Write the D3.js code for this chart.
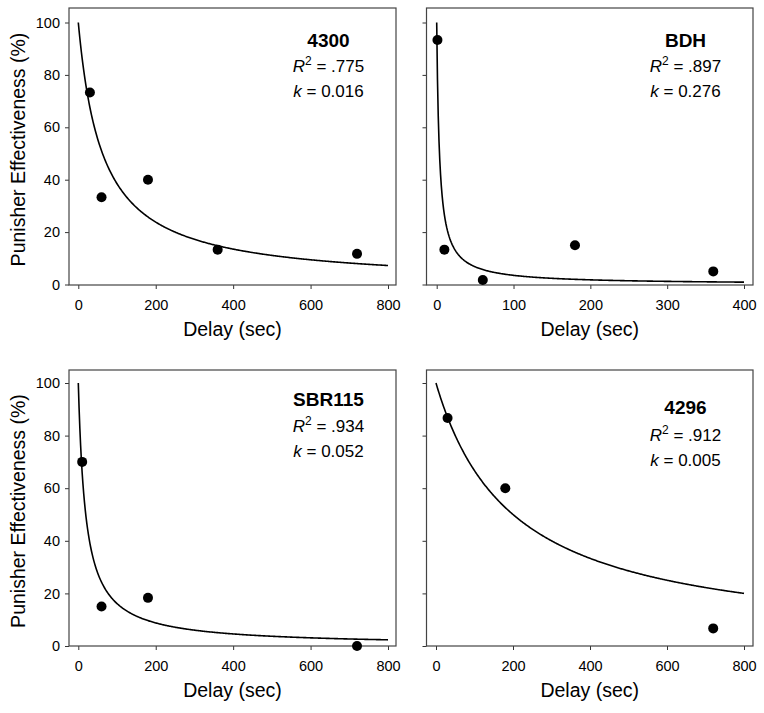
<!DOCTYPE html>
<html>
<head>
<meta charset="utf-8">
<script src="https://cdn.jsdelivr.net/npm/d3@7"></script>
<style>
  body { margin: 0; background: #fff; }
  text { font-family: "Liberation Sans", Arial, sans-serif; }
</style>
</head>
<body>
<div id="viz"></div>
<script>

// subject names, one per panel
var subjects = ['4300', 'BDH', 'SBR115', '4296'];

// observed delays (sec) and punisher effectiveness (%) for each subject
var delays4300 = [30, 60, 180, 360, 720];
var effect4300 = [73.3, 33.3, 40, 13.3, 11.7];
var delaysBDH = [1, 10, 60, 180, 360];
var effectBDH = [93.3, 13.3, 1.7, 15, 5];
var delaysSBR115 = [10, 60, 180, 720];
var effectSBR115 = [70, 15, 18.3, 0];
var delays4296 = [30, 180, 720];
var effect4296 = [86.7, 60, 6.7];

// fit statistics (hyperbolic model)
var rSquared = ['.775', '.897', '.934', '.912'];
var kValues = ['0.016', '0.276', '0.052', '0.005'];

// axis ticks
var xTicksLong = [0, 200, 400, 600, 800];
var xTicksShort = [0, 100, 200, 300, 400];
var yTicks = [0, 20, 40, 60, 80, 100];

// create an svg - everything will be drawn on this
var svg = d3.select('#viz').append('svg')
	.attr('width', 764)
	.attr('height', 713);

// panel layout: frame box, plotted x range and annotation baselines
var layout = [
	{frame: [69, 8, 396, 285], xr: [78.3, 388], yr: [284.5, 22.5], xMax: 800, ticks: xTicksLong, yLabels: true, ann: [47, 72, 97]},
	{frame: [426.5, 8, 753, 285], xr: [436.7, 744], yr: [284.5, 22.5], xMax: 400, ticks: xTicksShort, yLabels: false, ann: [47, 72, 97]},
	{frame: [69, 370, 396, 646], xr: [78.3, 388], yr: [646, 383], xMax: 800, ticks: xTicksLong, yLabels: true, ann: [406, 432, 457]},
	{frame: [426.5, 370, 753, 646], xr: [436, 744], yr: [646, 383], xMax: 800, ticks: xTicksLong, yLabels: false, ann: [414, 441, 466]}
];

var allDelays = [delays4300, delaysBDH, delaysSBR115, delays4296];
var allEffects = [effect4300, effectBDH, effectSBR115, effect4296];

// function for drawing one panel
function drawPanel(i) {
	var L = layout[i];
	var f = L.frame;
	var g = svg.append('g').attr('class', 'panel');

	var x = d3.scaleLinear().domain([0, L.xMax]).range(L.xr);
	var y = d3.scaleLinear().domain([0, 100]).range(L.yr);

	// x axis, ticks hanging below the frame
	var xAxis = g.append('g')
		.attr('transform', 'translate(0,' + f[3] + ')')
		.call(d3.axisBottom(x).tickValues(L.ticks).tickSize(4).tickPadding(10.5));
	xAxis.select('.domain').remove();

	// y axis, labels only on the left column
	var yAxis = g.append('g')
		.attr('transform', 'translate(' + f[0] + ',0)')
		.call(d3.axisLeft(y).tickValues(yTicks).tickSize(4).tickPadding(5)
			.tickFormat(L.yLabels ? d3.format('d') : function() { return ''; }));
	yAxis.select('.domain').remove();

	g.selectAll('.tick line').attr('stroke', '#333');
	g.selectAll('.tick text')
		.attr('fill', '#000')
		.style('font-size', '14.5px')
		.style('font-family', '"Liberation Sans", Arial, sans-serif');

	// frame around the plot
	g.append('rect')
		.attr('x', f[0])
		.attr('y', f[1])
		.attr('width', f[2] - f[0])
		.attr('height', f[3] - f[1])
		.attr('fill', 'none')
		.attr('stroke', '#444')
		.attr('stroke-width', 1.2);

	// fitted hyperbola: E = 100 / (1 + kD)
	var k = +kValues[i];
	var curveX = d3.range(0, L.xMax + 0.001, L.xMax / 400);
	var line = d3.line()
		.x(function(d) { return x(d); })
		.y(function(d) { return y(100 / (1 + k * d)); });
	g.append('path')
		.datum(curveX)
		.attr('d', line)
		.attr('fill', 'none')
		.attr('stroke', '#000')
		.attr('stroke-width', 1.6);

	// observed points
	g.selectAll('.dot')
		.data(allDelays[i])
		.enter()
		.append('circle')
		.attr('class', 'dot')
		.attr('cx', function(d) { return x(d); })
		.attr('cy', function(d, j) { return y(allEffects[i][j]); })
		.attr('r', 5)
		.attr('fill', '#000');

	// x axis label
	g.append('text')
		.attr('x', (f[0] + f[2]) / 2)
		.attr('y', f[3] + 51)
		.attr('text-anchor', 'middle')
		.style('font-size', '19.5px')
		.text('Delay (sec)');

	// y axis label on the left column
	if (L.yLabels) {
		var cy = (f[1] + f[3]) / 2 + 3;
		g.append('text')
			.attr('transform', 'translate(25,' + cy + ') rotate(-90)')
			.attr('text-anchor', 'middle')
			.style('font-size', '19.5px')
			.text('Punisher Effectiveness (%)');
	}

	// annotation: subject, R squared, k
	var ax = f[2] - 67.5;
	g.append('text')
		.attr('x', ax).attr('y', L.ann[0])
		.attr('text-anchor', 'middle')
		.style('font-size', '19px')
		.style('font-weight', 'bold')
		.text(subjects[i]);

	var r2 = g.append('text')
		.attr('x', ax).attr('y', L.ann[1])
		.attr('text-anchor', 'middle')
		.style('font-size', '17px');
	r2.append('tspan').style('font-style', 'italic').text('R');
	r2.append('tspan').attr('dy', -7).style('font-size', '12px').text('2');
	r2.append('tspan').attr('dy', 7).text(' = ' + rSquared[i]);

	var kt = g.append('text')
		.attr('x', ax).attr('y', L.ann[2])
		.attr('text-anchor', 'middle')
		.style('font-size', '17px');
	kt.append('tspan').style('font-style', 'italic').text('k');
	kt.append('tspan').text(' = ' + kValues[i]);
}

for (var i = 0; i < subjects.length; i++) {
	drawPanel(i);
}

</script>
</body>
</html>
